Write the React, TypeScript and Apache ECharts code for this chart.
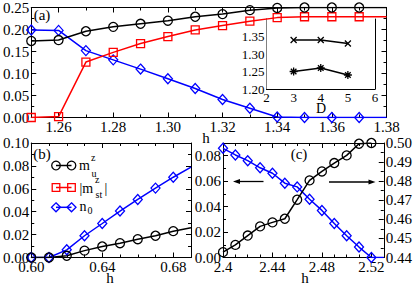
import React, { useEffect, useRef } from "react";
import * as echarts from "echarts";

const FONT = '"Liberation Serif", "Times New Roman", serif';

// Panel (a): h from 1.25 to 1.38 (last value sits on the right frame)
const hA = [1.25, 1.26, 1.27, 1.28, 1.29, 1.3, 1.31, 1.32, 1.33, 1.34, 1.35, 1.36, 1.37, 1.38];
const muA = [0.174, 0.176, 0.196, 0.206, 0.213, 0.22, 0.229, 0.235, 0.244, 0.249, 0.25, 0.25, 0.25, 0.25];
const mstA = [0.0, 0.002, 0.126, 0.148, 0.168, 0.184, 0.199, 0.209, 0.219, 0.227, 0.229, 0.229, 0.229, 0.229];
const n0A = [0.199, 0.198, 0.152, 0.131, 0.11, 0.088, 0.066, 0.041, 0.021, 0.001, 0.0, 0.0, 0.0, 0.0];
const ticksA = [1.26, 1.28, 1.3, 1.32, 1.34, 1.36, 1.38];

// Inset of (a)
const Dvals = [3, 4, 5];
const hc1 = [1.34, 1.34, 1.33];
const hc2 = [1.25, 1.26, 1.24];

// Panel (b)
const hB = [0.6, 0.61, 0.62, 0.63, 0.64, 0.65, 0.66, 0.67, 0.68, 0.69];
const muB = [0.0, 0.0, 0.0015, 0.006, 0.0096, 0.0125, 0.016, 0.019, 0.023, 0.026];
const n0B = [0.0, 0.0, 0.0067, 0.019, 0.0297, 0.0406, 0.0507, 0.0606, 0.0701, 0.079];

// Panel (c)
const hC = [2.4, 2.41, 2.42, 2.43, 2.44, 2.45, 2.46, 2.47, 2.48, 2.49, 2.5, 2.51, 2.52, 2.53];
const n0C = [0.0858, 0.0806, 0.0761, 0.0705, 0.0662, 0.0584, 0.0555, 0.0458, 0.037, 0.0267, 0.0171, 0.0082, 0.0, 0.0];
const muC = [0.4428, 0.4466, 0.4515, 0.4563, 0.4584, 0.4603, 0.4703, 0.4804, 0.4851, 0.4895, 0.4935, 0.4996, 0.5];

const BLACK = "#000000";
const RED = "#ff0000";
const BLUE = "#0000ff";

const f2 = (v: number) => v.toFixed(2);
const fTrim = (v: number) => String(parseFloat(v.toFixed(2)));

function ax(o: any) {
  return {
    type: "value",
    gridIndex: o.grid,
    position: o.pos,
    min: o.min,
    max: o.max,
    interval: o.interval,
    offset: 0,
    axisLine: { show: o.line !== false, onZero: false, lineStyle: { color: BLACK, width: 1 } },
    axisTick: {
      show: true,
      inside: true,
      length: o.tickLen ?? 5,
      lineStyle: { color: BLACK, width: 1 },
      ...(o.customTicks ? { customValues: o.customTicks } : {}),
    },
    minorTick: {
      show: !!o.minor,
      splitNumber: o.minor || 2,
      length: 3,
      lineStyle: { color: BLACK, width: 1 },
    },
    splitLine: { show: false },
    axisLabel: {
      show: !!o.label,
      color: BLACK,
      fontFamily: FONT,
      fontSize: o.fontSize ?? 15,
      margin: o.margin ?? 2,
      formatter: o.fmt ?? f2,
      showMinLabel: true,
      showMaxLabel: o.showMax !== false,
    },
  };
}

function series(xs: number[], ys: number[], xi: number, yi: number, color: string, symbol: string, size: any, edgeMax?: number) {
  return {
    type: "line",
    xAxisIndex: xi,
    yAxisIndex: yi,
    data: ys.map((y, i) => {
      const item: any = { value: [xs[i], y] };
      if (edgeMax !== undefined && xs[i] >= edgeMax - 1e-9) item.symbol = "none";
      return item;
    }),
    symbol,
    symbolSize: size,
    showAllSymbol: true,
    lineStyle: { color, width: 1.5 },
    itemStyle: { color: "rgba(0,0,0,0)", borderColor: color, borderWidth: 1.3 },
    emphasis: { disabled: true },
    silent: true,
    clip: true,
  };
}

const CROSS = "path://M0,0L10,10M10,0L0,10";
const STAR = "path://M5,0L5,10M0,5L10,5M1.5,1.5L8.5,8.5M8.5,1.5L1.5,8.5";

function txt(text: string, x: number, y: number, size = 15, align = "center") {
  return {
    type: "text",
    x,
    y,
    silent: true,
    style: { text, fill: BLACK, font: `${size}px ${FONT}`, align, verticalAlign: "middle" },
  };
}

const LX1 = 56;
const LX2 = 71.5;

function legendRow(y: number, color: string, kind: string) {
  const els: any[] = [
    { type: "line", silent: true, shape: { x1: LX1, y1: y, x2: LX2, y2: y }, style: { stroke: color, lineWidth: 1.5 } },
  ];
  [LX1, LX2].forEach((cx) => {
    const st = { fill: "none", stroke: color, lineWidth: 1.3 };
    if (kind === "circle") els.push({ type: "circle", silent: true, shape: { cx, cy: y, r: 4.3 }, style: st });
    else if (kind === "rect") els.push({ type: "rect", silent: true, shape: { x: cx - 3.8, y: y - 3.8, width: 7.6, height: 7.6 }, style: st });
    else
      els.push({
        type: "polygon",
        silent: true,
        shape: { points: [[cx, y - 4.5], [cx + 4.5, y], [cx, y + 4.5], [cx - 4.5, y]] },
        style: st,
      });
  });
  return els;
}

export default function App() {
  const ref = useRef<HTMLDivElement>(null);
  useEffect(() => {
    if (!ref.current) return;
    const chart = echarts.init(ref.current, undefined, { renderer: "svg" });
    const option: any = {
      animation: false,
      backgroundColor: "#ffffff",
      grid: [
        { left: 28, top: 5, width: 358.5, height: 112.5, show: false },
        { left: 28, top: 143, width: 163, height: 114.5, show: false },
        { left: 223, top: 143, width: 163.5, height: 114.5, show: false },
        { left: 266.5, top: 19, width: 108.5, height: 70, show: true, backgroundColor: "#ffffff", borderWidth: 0, z: 3 },
      ],
      xAxis: [
        ax({ grid: 0, pos: "bottom", min: 1.25, max: 1.38, interval: 0.01, tickLen: 3, label: true, fmt: (v: number) => (Math.round(v * 100) % 2 === 0 ? f2(v) : "") }),
        ax({ grid: 0, pos: "top", min: 1.25, max: 1.38, interval: 0.01, tickLen: 3 }),
        ax({ grid: 0, pos: "bottom", min: 1.25, max: 1.38, interval: 0.01, tickLen: 5, customTicks: ticksA, line: false }),
        ax({ grid: 0, pos: "top", min: 1.25, max: 1.38, interval: 0.01, tickLen: 5, customTicks: ticksA, line: false }),
        ax({ grid: 1, pos: "bottom", min: 0.6, max: 0.69, interval: 0.04, minor: 4, label: true, showMax: false }),
        ax({ grid: 1, pos: "top", min: 0.6, max: 0.69, interval: 0.04, minor: 4 }),
        ax({ grid: 2, pos: "bottom", min: 2.4, max: 2.53, interval: 0.04, minor: 4, label: true, showMax: false, fmt: fTrim }),
        ax({ grid: 2, pos: "top", min: 2.4, max: 2.53, interval: 0.04, minor: 4 }),
        ax({ grid: 3, pos: "bottom", min: 2, max: 6, interval: 1, minor: 2, label: true, fontSize: 13, margin: 1.5, fmt: (v: number) => String(v) }),
        ax({ grid: 3, pos: "top", min: 2, max: 6, interval: 1, minor: 2 }),
      ],
      yAxis: [
        ax({ grid: 0, pos: "left", min: 0, max: 0.25, interval: 0.05, minor: 2, label: true }),
        ax({ grid: 0, pos: "right", min: 0, max: 0.25, interval: 0.05, minor: 2 }),
        ax({ grid: 1, pos: "left", min: 0, max: 0.1, interval: 0.02, minor: 2, label: true }),
        ax({ grid: 1, pos: "right", min: 0, max: 0.1, interval: 0.02, minor: 2 }),
        ax({ grid: 2, pos: "left", min: 0, max: 0.09, interval: 0.02, minor: 2, label: true, showMax: false }),
        ax({ grid: 2, pos: "right", min: 0.44, max: 0.5, interval: 0.01, minor: 2, label: true }),
        ax({ grid: 3, pos: "left", min: 1.2, max: 1.4, interval: 0.05, minor: 2, label: true, fontSize: 13, showMax: false }),
        ax({ grid: 3, pos: "right", min: 1.2, max: 1.4, interval: 0.05, minor: 2 }),
      ],
      series: [
        series(hA, n0A, 0, 0, BLUE, "diamond", [9, 10], 1.38),
        series(hA, mstA, 0, 0, RED, "rect", 8, 1.38),
        series(hA, muA, 0, 0, BLACK, "circle", 9, 1.38),
        series(hB, n0B, 4, 2, BLUE, "diamond", [9, 10], 0.69),
        series(hB, muB, 4, 2, BLACK, "circle", 9, 0.69),
        series(hC, n0C, 6, 4, BLUE, "diamond", [9, 10], 2.53),
        series(hC, muC, 6, 5, BLACK, "circle", 9, 2.53),
        { ...series(Dvals, hc1, 8, 6, BLACK, CROSS, 6), z: 5 },
        { ...series(Dvals, hc2, 8, 6, BLACK, STAR, 8), z: 5 },
      ],
      graphic: [
        txt("(a)", 42, 15),
        txt("(b)", 42, 154),
        txt("(c)", 299, 154),
        txt("h", 206, 138),
        txt("h", 110, 277.5),
        txt("h", 305, 277.5),
        txt("D", 321, 108.5, 14),
        ...legendRow(165.5, BLACK, "circle"),
        ...legendRow(187.5, RED, "rect"),
        ...legendRow(207.3, BLUE, "diamond"),
        txt("m", 79, 165.5, 14, "left"),
        txt("z", 91, 157, 10, "left"),
        txt("u", 91.5, 173.5, 10, "left"),
        txt("|m", 79.5, 188, 14, "left"),
        txt("z", 95, 179, 10, "left"),
        txt("st", 95.5, 194, 10, "left"),
        txt("|", 104.5, 188, 14, "left"),
        txt("n", 79.5, 206, 14, "left"),
        txt("0", 87.5, 210, 10, "left"),
        { type: "line", silent: true, shape: { x1: 263.5, y1: 181.5, x2: 238, y2: 181.5 }, style: { stroke: BLACK, lineWidth: 1.3 } },
        { type: "polygon", silent: true, shape: { points: [[233, 181.5], [240, 179.1], [240, 183.9]] }, style: { fill: BLACK } },
        { type: "line", silent: true, shape: { x1: 329, y1: 182, x2: 370, y2: 182 }, style: { stroke: BLACK, lineWidth: 1.3 } },
        { type: "polygon", silent: true, shape: { points: [[375.5, 182], [368.5, 179.6], [368.5, 184.4]] }, style: { fill: BLACK } },
      ],
    };
    chart.setOption(option);
    return () => chart.dispose();
  }, []);
  return <div ref={ref} style={{ position: "fixed", left: 0, top: 0, width: 415, height: 285 }} />;
}
